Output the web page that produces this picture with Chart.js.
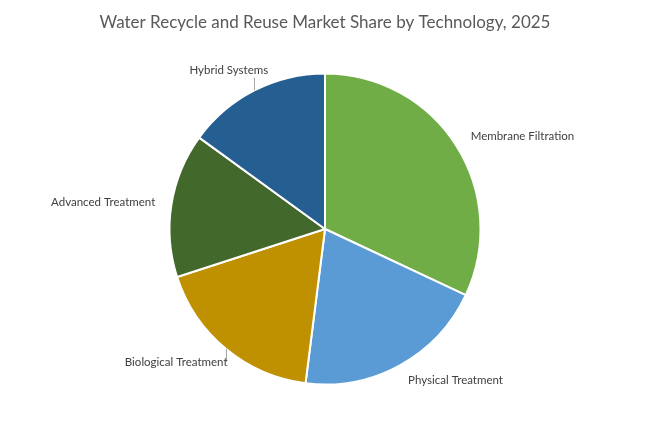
<!DOCTYPE html>
<html>
<head>
<meta charset="utf-8">
<script src="https://cdn.jsdelivr.net/npm/chart.js@4"></script>
<style>
  html, body { margin: 0; padding: 0; background: #fff; }
  #wrap { width: 649px; height: 424px; }
</style>
</head>
<body>
<div id="wrap"><canvas id="chart"></canvas></div>
<script>
const technologies = ['Membrane Filtration', 'Physical Treatment', 'Biological Treatment', 'Advanced Treatment', 'Hybrid Systems'];
const shares = [32, 20, 18, 15, 15];
const sliceColors = ['#70AD47', '#5B9BD5', '#BF9000', '#43682B', '#255E91'];
const withLeader = ['Biological Treatment', 'Hybrid Systems'];

// etiquettes dehors, comme dans Excel
const outsideLabels = {
    id: 'outsideLabels',
    afterDatasetsDraw(chart) {
        const ctx = chart.ctx;
        const meta = chart.getDatasetMeta(0);
        ctx.save();
        ctx.font = '11.5px Lato';
        ctx.textBaseline = 'middle';
        meta.data.forEach((arc, i) => {
            const mid = (arc.startAngle + arc.endAngle) / 2;
            const cx = Math.cos(mid), cy = Math.sin(mid);
            const R = arc.outerRadius;
            const r = R + 17;
            const ax = arc.x + r * cx;
            const ay = arc.y + r * cy + Math.min(0, cy + 0.5) * 12;
            const text = chart.data.labels[i];
            const w = ctx.measureText(text).width;
            const f = cx > 0 ? 0 : (1 - cx) / 2 + (cy > 0 ? 0.06 : 0);
            const left = ax - f * w;
            if (withLeader.includes(text)) {
                const px = arc.x + R * cx;
                const py = arc.y + R * cy;
                ctx.strokeStyle = '#A6A6A6';
                ctx.lineWidth = 1;
                ctx.beginPath();
                ctx.moveTo(Math.round(px) + 0.5, py);
                ctx.lineTo(Math.round(px) + 0.5, cy < 0 ? ay + 7 : ay);
                ctx.stroke();
            }
            ctx.fillStyle = '#404040';
            ctx.textAlign = 'left';
            ctx.fillText(text, left, ay);
        });
        ctx.restore();
    }
};

new Chart(document.getElementById('chart'), {
    type: 'pie',
    data: {
        labels: technologies,
        datasets: [{
            data: shares,
            backgroundColor: sliceColors,
            borderColor: '#FFFFFF',
            borderWidth: 2
        }]
    },
    options: {
        responsive: true,
        maintainAspectRatio: false,
        animation: false,
        events: [],
        layout: {
            padding: { top: 0, bottom: 38.5, left: 1, right: 0 }
        },
        plugins: {
            legend: { display: false },
            tooltip: { enabled: false },
            title: {
                display: true,
                text: 'Water Recycle and Reuse Market Share by Technology, 2025',
                color: '#595959',
                font: { family: 'Lato', size: 17, weight: 'normal' },
                padding: { top: 12, bottom: 40.1 }
            }
        }
    },
    plugins: [outsideLabels]
});
</script>
</body>
</html>
